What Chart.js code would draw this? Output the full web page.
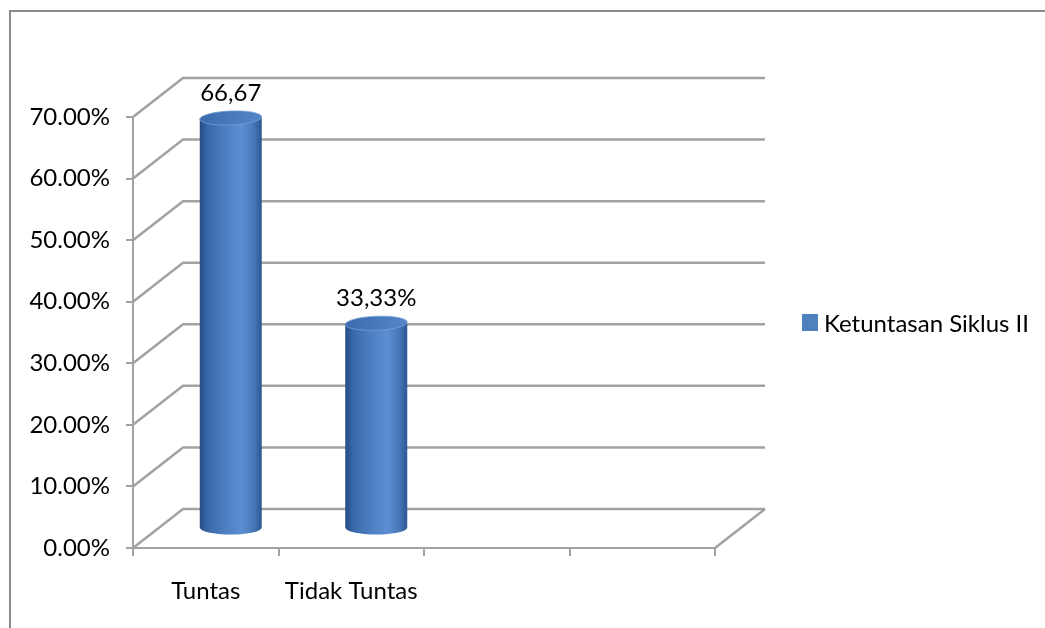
<!DOCTYPE html>
<html>
<head>
<meta charset="utf-8">
<style>
    html, body { margin: 0; padding: 0; background: #fff; }
    #chart { display: block; }
</style>
<script src="https://cdn.jsdelivr.net/npm/chart.js@4/dist/chart.umd.min.js"></script>
</head>
<body>
<canvas id="chart" width="1045" height="628"></canvas>
<script>
    // Data
    const categories = ['Tuntas', 'Tidak Tuntas', '', ''];
    const ketuntasan = [66.67, 33.33, null, null];
    const valueLabels = ['66,67', '33,33%'];
    const seriesName = 'Ketuntasan Siklus II';
    const yMax = 70;
    const yStep = 10;

    // Look
    const FONT = 'Lato';
    const FONT_SIZE = 24;
    const GRID = '#a2a2a2';
    const DEPTH = { dx: 50, dy: -39 };

    const frame = {
        id: 'frame',
        beforeDraw(chart) {
            const ctx = chart.ctx;
            ctx.save();
            ctx.fillStyle = '#fff';
            ctx.fillRect(0, 0, chart.width, chart.height);
            ctx.strokeStyle = '#8a8a8a';
            ctx.lineWidth = 2;
            ctx.beginPath();
            ctx.moveTo(10, chart.height);
            ctx.lineTo(10, 11);
            ctx.lineTo(chart.width, 11);
            ctx.stroke();
            ctx.restore();
        }
    };

    // Side wall, back wall and floor edge
    const walls = {
        id: 'walls',
        beforeDatasetsDraw(chart) {
            const { ctx, chartArea } = chart;
            const y = chart.scales.y;
            ctx.save();
            ctx.strokeStyle = GRID;
            ctx.lineWidth = 2.5;
            y.ticks.forEach(t => {
                const py = y.getPixelForValue(t.value);
                ctx.beginPath();
                ctx.moveTo(chartArea.left, py);
                ctx.lineTo(chartArea.left + DEPTH.dx, py + DEPTH.dy);
                ctx.lineTo(chartArea.right + DEPTH.dx, py + DEPTH.dy);
                ctx.stroke();
            });
            ctx.beginPath();
            ctx.moveTo(chartArea.right, chartArea.bottom);
            ctx.lineTo(chartArea.right + DEPTH.dx, chartArea.bottom + DEPTH.dy);
            ctx.stroke();
            ctx.restore();
        }
    };

    function shade(ctx, x0, x1) {
        const g = ctx.createLinearGradient(x0, 0, x1, 0);
        g.addColorStop(0, '#244c85');
        g.addColorStop(0.12, '#3767a7');
        g.addColorStop(0.45, '#4f82c4');
        g.addColorStop(0.68, '#5b8fd2');
        g.addColorStop(0.88, '#4575b6');
        g.addColorStop(1, '#2a5792');
        return g;
    }

    // Cylinders placed at mid-depth, sized from the bar elements
    const cylinders = {
        id: 'cylinders',
        afterDatasetsDraw(chart) {
            const ctx = chart.ctx;
            const meta = chart.getDatasetMeta(0);
            ctx.save();
            meta.data.forEach((bar, i) => {
                if (ketuntasan[i] == null) return;
                const cx = bar.x + DEPTH.dx / 2;
                const top = bar.y + DEPTH.dy / 2;
                const bottom = bar.base + DEPTH.dy / 2;
                const rx = bar.width / 2;
                const ry = 7;

                ctx.fillStyle = shade(ctx, cx - rx, cx + rx);
                ctx.beginPath();
                ctx.moveTo(cx - rx, top);
                ctx.lineTo(cx - rx, bottom);
                ctx.ellipse(cx, bottom, rx, ry, 0, Math.PI, 0, true);
                ctx.lineTo(cx + rx, top);
                ctx.closePath();
                ctx.fill();

                const cap = ctx.createLinearGradient(cx - rx, top - ry, cx + rx, top + ry);
                cap.addColorStop(0, '#3a6aab');
                cap.addColorStop(0.6, '#4a7cbe');
                cap.addColorStop(1, '#5486c6');
                ctx.fillStyle = cap;
                ctx.beginPath();
                ctx.ellipse(cx, top, rx, ry, -0.04, 0, Math.PI * 2);
                ctx.fill();
                ctx.strokeStyle = 'rgba(120,160,215,0.8)';
                ctx.lineWidth = 1;
                ctx.stroke();

                ctx.fillStyle = '#000';
                ctx.font = `${FONT_SIZE}px ${FONT}`;
                ctx.textAlign = 'center';
                ctx.textBaseline = 'alphabetic';
                ctx.fillText(valueLabels[i], cx, top - ry - 10);
            });
            ctx.restore();
        }
    };

    const legendBox = {
        id: 'legendBox',
        afterDraw(chart) {
            const ctx = chart.ctx;
            ctx.save();
            ctx.fillStyle = '#4f81bd';
            ctx.fillRect(802, 314, 16, 17);
            ctx.fillStyle = '#000';
            ctx.font = `${FONT_SIZE}px ${FONT}`;
            ctx.textAlign = 'left';
            ctx.textBaseline = 'alphabetic';
            ctx.fillText(seriesName, 824, 332);
            ctx.restore();
        }
    };

    new Chart(document.getElementById('chart'), {
        type: 'bar',
        data: {
            labels: categories,
            datasets: [{
                label: seriesName,
                data: ketuntasan,
                backgroundColor: 'rgba(0,0,0,0)',
                categoryPercentage: 1,
                barPercentage: 0.426
            }]
        },
        options: {
            responsive: false,
            devicePixelRatio: 1,
            animation: false,
            layout: { padding: { top: 117, right: 330, left: 0, bottom: 0 } },
            plugins: {
                legend: { display: false },
                tooltip: { enabled: false }
            },
            scales: {
                x: {
                    afterFit: s => { s.height = 80; },
                    grid: { offset: true, drawOnChartArea: false, tickLength: 8, color: GRID, lineWidth: 2 },
                    border: { color: GRID, width: 2 },
                    ticks: {
                        color: '#000',
                        padding: 21,
                        maxRotation: 0,
                        autoSkip: false,
                        font: { family: FONT, size: FONT_SIZE }
                    }
                },
                y: {
                    min: 0,
                    max: yMax,
                    afterFit: s => { s.width = 133; },
                    grid: { drawOnChartArea: false, tickLength: 7, color: GRID, lineWidth: 2 },
                    border: { color: GRID, width: 2 },
                    ticks: {
                        stepSize: yStep,
                        color: '#000',
                        padding: 16,
                        font: { family: FONT, size: FONT_SIZE },
                        callback: v => v.toFixed(2) + '%'
                    }
                }
            }
        },
        plugins: [frame, walls, cylinders, legendBox]
    });
</script>
</body>
</html>
